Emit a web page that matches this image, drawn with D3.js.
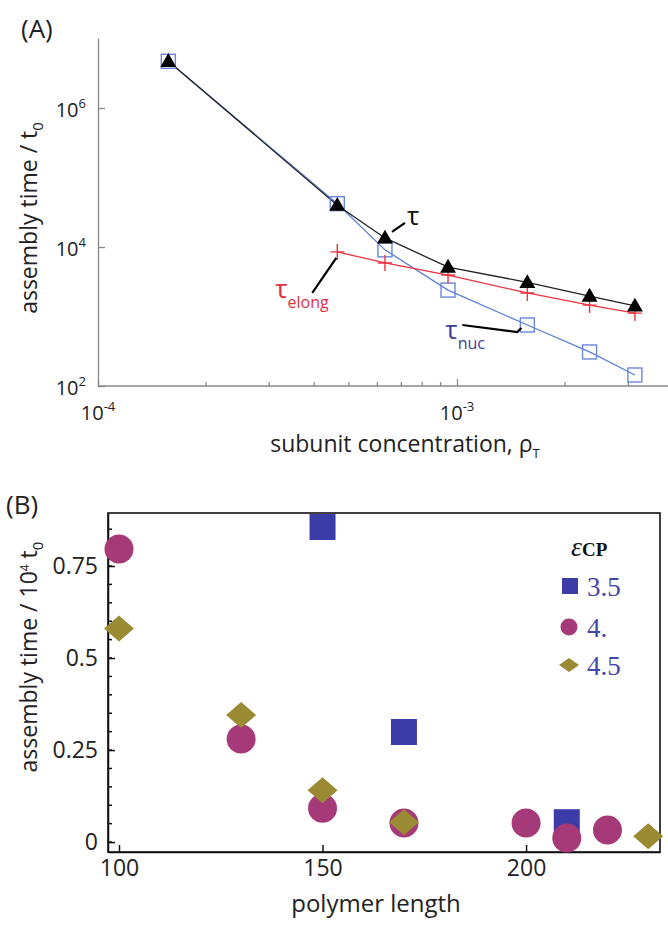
<!DOCTYPE html>
<meta charset="utf-8">
<style>
  body { margin: 0; background: #fff; }
  svg { display: block; }
  text { font-family: "Open Sans", "DejaVu Sans", sans-serif; }
  .axisA path, .axisA line { stroke: #888; stroke-width: 1.3px; }
  .axisB path, .axisB line { stroke: #111; stroke-width: 1.5px; }
  .tick text { fill: #222; }
</style>
<svg width="668" height="925"></svg>
<script src="https://d3js.org/d3.v7.min.js"></script>
<script>

// ---- panel A data ----
var concA    = [1.57e-4, 4.64e-4, 6.3e-4, 9.44e-4, 1.57e-3, 2.34e-3, 3.13e-3];
var tauTotal = [4.7e6, 4.0e4, 1.35e4, 5.15e3, 3.1e3, 1.97e3, 1.42e3];
var tauNuc   = [4.7e6, 4.2e4, 9.1e3, 2.4e3, 755, 309, 144];
var tauElong = [null, 8.5e3, 5.9e3, 3.95e3, 2.18e3, 1.46e3, 1.12e3];
var yTicksA  = [1e2, 1e4, 1e6];
var xTicksA  = [1e-4, 1e-3];
var xMinorA  = [2e-4, 3e-4, 4e-4, 5e-4, 6e-4, 7e-4, 8e-4, 9e-4, 2e-3, 3e-3];

// ---- panel B data ----
var len35 = [150, 170, 210],           val35 = [0.856, 0.299, 0.054];
var len40 = [100, 130, 150, 170, 200, 210, 220], val40 = [0.796, 0.28, 0.092, 0.052, 0.052, 0.011, 0.033];
var len45 = [100, 130, 150, 170, 230], val45 = [0.58, 0.345, 0.141, 0.054, 0.016];
var xTicksB = [100, 150, 200];
var yTicksB = [0, 0.25, 0.5, 0.75];
var yMinorB = d3.range(0, 0.9, 0.05);
var legendLabels = ["3.5", "4.", "4.5"];

var svg = d3.select("svg");

// ================= panel A =================
var xA = d3.scaleLog().domain([1e-4, 3.87e-3]).range([98, 668]);
var yA = d3.scaleLog().domain([1e2, 1.017e7]).range([386, 38]);

var gA = svg.append("g");

gA.append("text").attr("x", 21).attr("y", 38).style("font-size", "26px").attr("fill", "#222").text("(A)");

var axA = gA.append("g").attr("class", "axisA").attr("transform", "translate(0,386)")
    .call(d3.axisBottom(xA).tickValues(xTicksA).tickSizeInner(-7).tickSizeOuter(0).tickFormat(""));
axA.select(".domain").attr("d", "M98,0H668");
axA.selectAll(".minor").data(xMinorA).enter().append("line")
    .attr("x1", function(d) { return xA(d); }).attr("x2", function(d) { return xA(d); })
    .attr("y1", 0).attr("y2", -4).attr("stroke", "#888");

var ayA = gA.append("g").attr("class", "axisA").attr("transform", "translate(98,0)")
    .call(d3.axisLeft(yA).tickValues(yTicksA).tickSizeInner(-7).tickSizeOuter(0).tickFormat(""));

function powLabel(g, x, y, exp, anchor) {
  var t = g.append("text").attr("x", x).attr("y", y).attr("text-anchor", anchor).style("font-size", "20px").attr("fill", "#222");
  t.append("tspan").text("10");
  t.append("tspan").attr("dy", -9).style("font-size", "13px").text(exp);
}
yTicksA.forEach(function(v) { powLabel(gA, 86, yA(v) + 9, String(Math.round(Math.log10(v))), "end"); });
xTicksA.forEach(function(v) { powLabel(gA, xA(v), 420, String(Math.round(Math.log10(v))), "middle"); });

var lineA = function(vals) {
  return d3.line().defined(function(d, i) { return vals[i] != null; })
    .x(function(d, i) { return xA(concA[i]); })
    .y(function(d, i) { return yA(vals[i]); })(vals);
};
gA.append("path").attr("d", lineA(tauNuc)).attr("fill", "none").attr("stroke", "#5b7fd6").attr("stroke-width", 1.3);
gA.append("path").attr("d", lineA(tauElong)).attr("fill", "none").attr("stroke", "#ee3340").attr("stroke-width", 1.3);
gA.append("path").attr("d", lineA(tauTotal)).attr("fill", "none").attr("stroke", "#222").attr("stroke-width", 1.3);

// squares
gA.selectAll(".sq").data(tauNuc).enter().append("rect")
    .attr("x", function(d, i) { return xA(concA[i]) - 7; })
    .attr("y", function(d) { return yA(d) - 7; })
    .attr("width", 14).attr("height", 14)
    .attr("fill", "none").attr("stroke", "#6a86d8").attr("stroke-width", 1.4);
// plus
var plusPts = tauElong.map(function(d, i) { return d == null ? null : [xA(concA[i]), yA(d)]; }).filter(Boolean);
gA.selectAll(".pl").data(plusPts).enter().append("path")
    .attr("d", function(p) { return "M" + (p[0] - 7) + "," + p[1] + "H" + (p[0] + 7) + "M" + p[0] + "," + (p[1] - 8) + "V" + (p[1] + 8); })
    .attr("stroke", "#ee3340").attr("stroke-width", 1.4);
// triangles
gA.selectAll(".tri").data(tauTotal).enter().append("path")
    .attr("transform", function(d, i) { return "translate(" + xA(concA[i]) + "," + (yA(d) + 1) + ")"; })
    .attr("d", d3.symbol().type(d3.symbolTriangle).size(110))
    .attr("fill", "#000");

// annotations
var p2 = [xA(concA[2]), yA(tauTotal[2])];
gA.append("path").attr("d", "M" + (p2[0] + 7) + "," + (p2[1] - 6) + "L" + (p2[0] + 20) + "," + (p2[1] - 15))
    .attr("stroke", "#000").attr("stroke-width", 2.2);
gA.append("text").attr("x", p2[0] + 22).attr("y", p2[1] - 13).style("font-size", "26px").attr("fill", "#111").text("τ");

var p1 = [xA(concA[1]), yA(tauElong[1])];
gA.append("path").attr("d", "M" + (p1[0] - 25) + "," + (p1[1] + 41) + "L" + (p1[0] - 1) + "," + (p1[1] + 6))
    .attr("stroke", "#000").attr("stroke-width", 2.2);
var te = gA.append("text").attr("x", p1[0] - 62).attr("y", p1[1] + 46).style("font-size", "26px").attr("fill", "#e0303f");
te.append("tspan").text("τ");
te.append("tspan").attr("dy", 10).style("font-size", "16px").text("elong");

var p4 = [xA(concA[4]), yA(tauNuc[4])];
gA.append("path").attr("d", "M" + (p4[0] - 65) + "," + (p4[1]) + "L" + (p4[0] - 10) + "," + (p4[1] + 7) + "L" + (p4[0] - 6) + "," + (p4[1] + 3))
    .attr("stroke", "#000").attr("stroke-width", 2.2).attr("fill", "none");
var tn = gA.append("text").attr("x", p4[0] - 82).attr("y", p4[1] + 14).style("font-size", "26px").attr("fill", "#3d3d9e");
tn.append("tspan").text("τ");
tn.append("tspan").attr("dy", 10).style("font-size", "16px").text("nuc");

// axis titles
var ylA = gA.append("text").attr("transform", "translate(37,218) rotate(-90)").attr("text-anchor", "middle")
    .style("font-size", "23px").attr("fill", "#222");
ylA.append("tspan").text("assembly time / t");
ylA.append("tspan").attr("dy", 6).style("font-size", "15px").text("0");

var xlA = gA.append("text").attr("x", 405).attr("y", 452).attr("text-anchor", "middle")
    .style("font-size", "23px").attr("fill", "#222");
xlA.append("tspan").text("subunit concentration, ρ");
xlA.append("tspan").attr("dy", 6).style("font-size", "13px").text("T");

// ================= panel B =================
var xB = d3.scaleLinear().domain([97.3, 232.9]).range([108, 660]);
var yB = d3.scaleLinear().domain([-0.027, 0.894]).range([852, 513]);

var gB = svg.append("g");
gB.append("text").attr("x", 6).attr("y", 514).style("font-size", "26px").attr("fill", "#222").text("(B)");

gB.append("rect").attr("x", 108).attr("y", 513).attr("width", 552).attr("height", 339)
    .attr("fill", "none").attr("stroke", "#111").attr("stroke-width", 1.6);

var axB = gB.append("g").attr("class", "axisB").attr("transform", "translate(0,852)")
    .call(d3.axisBottom(xB).tickValues(xTicksB).tickSizeInner(-7).tickSizeOuter(0).tickPadding(8));
axB.selectAll(".tick text").style("font-size", "23px");

var ayB = gB.append("g").attr("class", "axisB").attr("transform", "translate(108,0)")
    .call(d3.axisLeft(yB).tickValues(yTicksB).tickSizeInner(-7).tickSizeOuter(0).tickPadding(10)
      .tickFormat(function(d) { return String(d); }));
ayB.selectAll(".tick text").style("font-size", "23px");
ayB.selectAll(".mn").data(yMinorB).enter().append("line")
    .attr("x1", 0).attr("x2", 4)
    .attr("y1", function(d) { return yB(d); }).attr("y2", function(d) { return yB(d); })
    .attr("stroke", "#111").attr("stroke-width", 1.3);

var cBlue = "#3c3ca8", cMag = "#a63a78", cOl = "#9a8a34";

gB.selectAll(".s35").data(val35).enter().append("rect")
    .attr("x", function(d, i) { return xB(len35[i]) - 13; })
    .attr("y", function(d) { return yB(d) - 13; })
    .attr("width", 26).attr("height", 26).attr("fill", cBlue);
gB.selectAll(".c40").data(val40).enter().append("circle")
    .attr("cx", function(d, i) { return xB(len40[i]); })
    .attr("cy", function(d) { return yB(d); })
    .attr("r", 14.5).attr("fill", cMag);
gB.selectAll(".d45").data(val45).enter().append("path")
    .attr("d", function(d, i) {
      var x = xB(len45[i]), y = yB(d);
      return "M" + x + "," + (y - 13) + "L" + (x + 15) + "," + y + "L" + x + "," + (y + 13) + "L" + (x - 15) + "," + y + "Z";
    })
    .attr("fill", cOl);

// legend
var lg = gB.append("g");
var eps = lg.append("text").attr("x", 571).attr("y", 556).style("font-family", "'Liberation Serif', serif")
    .attr("fill", "#111");
eps.append("tspan").style("font-size", "28px").style("font-style", "italic").text("ε");
eps.append("tspan").style("font-size", "19px").style("font-weight", "bold").text("CP");
var legY = [586, 627, 665];
lg.append("rect").attr("x", 562).attr("y", legY[0] - 8).attr("width", 16).attr("height", 16).attr("fill", cBlue);
lg.append("circle").attr("cx", 569).attr("cy", legY[1]).attr("r", 8.5).attr("fill", cMag);
lg.append("path").attr("d", "M569," + (legY[2] - 7) + "L579," + legY[2] + "L569," + (legY[2] + 7) + "L559," + legY[2] + "Z").attr("fill", cOl);
lg.selectAll(".lt").data(legendLabels).enter().append("text")
    .attr("x", 587).attr("y", function(d, i) { return legY[i] + 10; })
    .style("font-family", "'Liberation Serif', serif").style("font-size", "27px").attr("fill", "#4646a8")
    .text(function(d) { return d; });

// axis titles
var ylB = gB.append("text").attr("transform", "translate(37,657) rotate(-90)").attr("text-anchor", "middle")
    .style("font-size", "23px").attr("fill", "#222");
ylB.append("tspan").text("assembly time / 10");
ylB.append("tspan").attr("dy", -8).style("font-size", "12px").text("4");
ylB.append("tspan").attr("dy", 8).text(" t");
ylB.append("tspan").attr("dy", 6).style("font-size", "15px").text("0");

gB.append("text").attr("x", 376).attr("y", 912).attr("text-anchor", "middle")
    .style("font-size", "24px").attr("fill", "#222").text("polymer length");

</script>
